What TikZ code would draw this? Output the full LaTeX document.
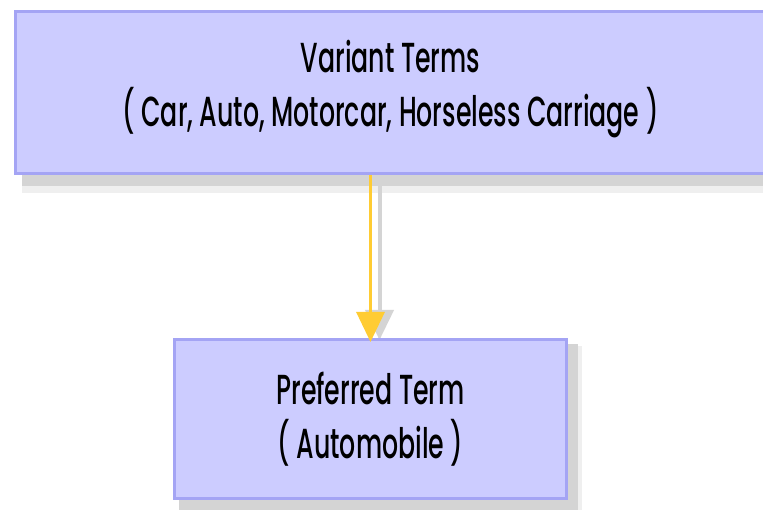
\documentclass[tikz,border=0pt]{standalone}
\usepackage{fontspec}
\setmainfont{Poppins Medium}
\usetikzlibrary{arrows.meta}
\definecolor{boxfill}{HTML}{CCCCFF}
\definecolor{boxline}{HTML}{A4A4F4}
\definecolor{flowc}{HTML}{FFCC33}
\definecolor{shadowgray}{HTML}{D4D4D4}
\definecolor{shadowlight}{HTML}{EFEFEF}
\newcommand\squeezed[1]{\scalebox{0.6}[1]{#1}}
\pgfdeclarelayer{back}
\pgfsetlayers{back,main}
\tikzset{
  termbox/.style={draw=boxline, fill=boxfill, line width=3pt, rectangle,
    anchor=north west, align=center, inner sep=0pt,
    font=\fontsize{42}{54}\selectfont},
  flow/.style={draw=flowc, line width=3pt, -{Triangle[width=28pt,length=30pt]}},
  flowshadow/.style={draw=shadowgray, line width=4pt, -{Triangle[width=28pt,length=30pt]}},
}
\begin{document}
\begin{tikzpicture}[x=1pt,y=-1pt]
\useasboundingbox (0,0) rectangle (763,510);
\clip (0,0) rectangle (763,510);

% the two term boxes
\node[termbox, minimum width=750pt, minimum height=162pt] (variant) at (14,10)
  {\squeezed{Variant Terms}\\\squeezed{( Car, Auto, Motorcar, Horseless Carriage )}\rule[-18pt]{0pt}{18pt}};
\node[termbox, minimum width=392pt, minimum height=159pt] (preferred) at (173,338)
  {\squeezed{Preferred Term}\\\squeezed{( Automobile )}};

% white page and soft drop shadows behind boxes and connector
\begin{pgfonlayer}{back}
  \fill[white] (0,0) rectangle (763,510);
  \fill[shadowlight] ([shift={(8,8)}]variant.north west) rectangle ([shift={(4,18)}]variant.south east);
  \fill[shadowgray] ([shift={(8,6)}]variant.north west) rectangle ([shift={(2,11)}]variant.south east);
  \fill[shadowlight] ([shift={(8,8)}]preferred.north west) rectangle ([shift={(14,14)}]preferred.south east);
  \fill[shadowgray] ([shift={(6,6)}]preferred.north west) rectangle ([shift={(10,10)}]preferred.south east);
  \draw[flowshadow] ([xshift=9pt,yshift=-10pt]preferred.north |- variant.south) -- ([xshift=9pt,yshift=-2pt]preferred.north);
\end{pgfonlayer}

% connector from variant terms to the preferred term
\draw[flow] (preferred.north |- variant.south) -- ([yshift=-4pt]preferred.north);
\end{tikzpicture}
\end{document}
